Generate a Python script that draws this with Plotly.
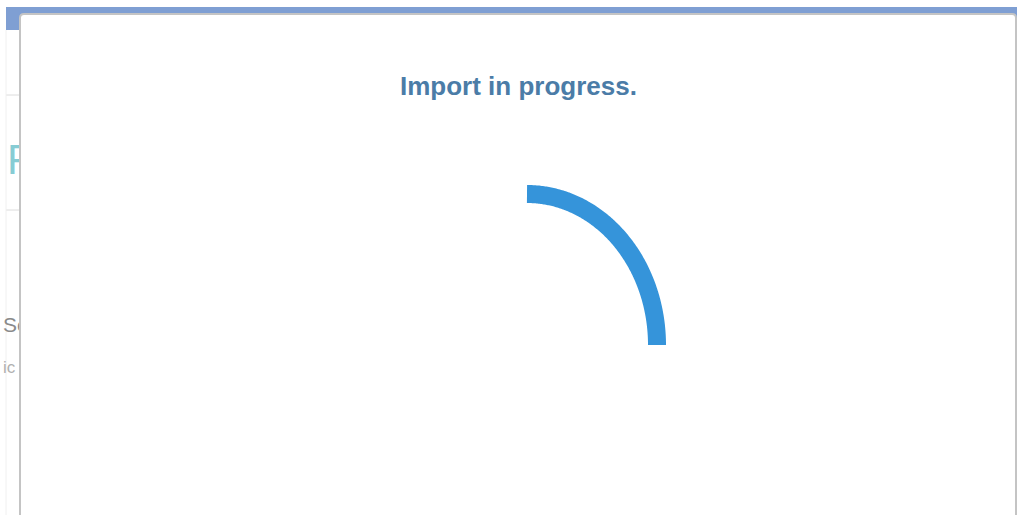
import numpy as np
import plotly.graph_objects as go

# ---- content / data ----
title_text = "Import in progress."
# spinner arc, clock angles in degrees (0 = 12 o'clock, clockwise)
spinner_arc_deg = [0, 90]
# faint page fragments visible behind the dialog (left edge)
bg_labels = ["P", "Se", "ic"]
bg_label_colors = ["#86ccd4", "#8a8a8a", "#b0b0b0"]
bg_label_sizes = [42, 21, 17]
bg_label_y = [163, 327, 369]

W, H = 1019, 515

# ---- geometry of the spinner (pixels) ----
cx, cy, rx, ry = 527, 345, 130, 151
theta = np.radians(np.linspace(spinner_arc_deg[0], spinner_arc_deg[1], 180))
arc_x = cx + rx * np.sin(theta)
arc_y = cy - ry * np.cos(theta)

fig = go.Figure()

# background page text, clipped by a narrow subplot (left of dialog)
fig.add_trace(go.Scatter(
    x=[7, 3, 3], y=bg_label_y, mode="text", text=bg_labels,
    textposition="middle right",
    textfont=dict(family="Liberation Sans", size=bg_label_sizes, color=bg_label_colors),
    xaxis="x2", yaxis="y2", cliponaxis=True, hoverinfo="skip", showlegend=False))

# spinner arc
fig.add_trace(go.Scatter(
    x=arc_x, y=arc_y, mode="lines",
    line=dict(color="#3594da", width=18, simplify=False),
    hoverinfo="skip", showlegend=False))

shapes = [
    # blue header strip of the page
    dict(type="rect", x0=6, x1=1017, y0=7, y1=30, fillcolor="#7f9fd3",
         line=dict(width=0), layer="below"),
    # faint lines of page behind
    dict(type="line", x0=6, x1=19, y0=95, y1=95, line=dict(color="#dcdcdc", width=1), layer="below"),
    dict(type="line", x0=6, x1=19, y0=210, y1=210, line=dict(color="#dcdcdc", width=1), layer="below"),
    dict(type="line", x0=6, x1=6, y0=30, y1=515, line=dict(color="#f0f0f0", width=1), layer="below"),
    # dialog
    dict(type="path",
         path="M 20 520 L 20 18 Q 20 14 24 14 L 1012 14 Q 1016 14 1016 18 L 1016 520 Z",
         fillcolor="#ffffff", line=dict(color="#c4c4c4", width=2), layer="below"),
]

fig.update_layout(
    width=W, height=H,
    margin=dict(l=0, r=0, t=0, b=0),
    paper_bgcolor="#ffffff", plot_bgcolor="rgba(0,0,0,0)",
    xaxis=dict(range=[0, W], visible=False, fixedrange=True, domain=[0, 1]),
    yaxis=dict(range=[H, 0], visible=False, fixedrange=True, domain=[0, 1]),
    xaxis2=dict(range=[0, 19], visible=False, fixedrange=True, domain=[0, 19 / W], anchor="y2"),
    yaxis2=dict(range=[H, 0], visible=False, fixedrange=True, domain=[0, 1], anchor="x2"),
    shapes=shapes,
    annotations=[dict(
        text="<b>" + title_text + "</b>", x=518, y=86, xref="x", yref="y",
        showarrow=False, xanchor="center", yanchor="middle",
        font=dict(family="Liberation Sans", size=26, color="#4b7ca7"))],
    showlegend=False,
)

fig.write_html("out.html", config={"displayModeBar": False, "staticPlot": True},
               post_script="document.body.style.margin='0';document.body.style.overflow='hidden';")
